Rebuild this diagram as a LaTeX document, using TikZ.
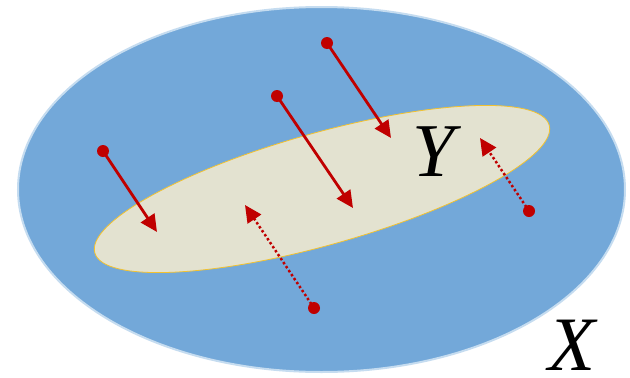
\documentclass[tikz,border=0pt]{standalone}
\usepackage{fontspec}
\setmainfont{Liberation Serif}
\usetikzlibrary{arrows.meta}
\definecolor{bigblue}{HTML}{73A8D9}
\definecolor{rimblue}{HTML}{C5DCF0}
\definecolor{beige}{HTML}{E3E2D0}
\definecolor{rimyel}{HTML}{F2C230}
\definecolor{arrred}{HTML}{C00000}
\tikzset{
  dotnode/.style={circle,fill=arrred,inner sep=0pt,minimum size=12pt},
  solidarr/.style={draw=arrred,line width=2.8pt,-{Triangle[length=17pt,width=16pt]}},
  dotarr/.style={draw=arrred,line width=2.5pt,dash pattern=on 2.4pt off 2.4pt,-{Triangle[length=17pt,width=16pt]}},
  lbl/.style={font=\fontsize{76}{76}\selectfont\itshape,inner sep=0pt}
}
\begin{document}
\begin{tikzpicture}[x=1pt,y=-1pt]
\useasboundingbox (0,0) rectangle (630,378);
\fill[white] (0,0) rectangle (630,378);
\draw[fill=bigblue,draw=rimblue,line width=2pt] (321.5,189.5) ellipse [x radius=303.5,y radius=182.5];
\draw[fill=beige,draw=rimyel,line width=0.8pt,rotate around={15.7:(322,189)}] (322,189) ellipse [x radius=236,y radius=56];
\node[lbl] (Y) at (434,152) {Y};
\node[lbl,font=\fontsize{77}{77}\selectfont\itshape] (X) at (572,345) {X};
% solid arrows
\node[dotnode] (s1) at (103,151) {};
\coordinate (t1) at (157,232);
\node[dotnode] (s2) at (277,96) {};
\coordinate (t2) at (353,208);
\node[dotnode] (s3) at (327,43) {};
\coordinate (t3) at (391,138);
\draw[solidarr] (s1.center) -- (t1);
\draw[solidarr] (s2.center) -- (t2);
\draw[solidarr] (s3.center) -- (t3);
% dotted arrows
\node[dotnode] (d1) at (314,308) {};
\coordinate (u1) at (245,205);
\node[dotnode] (d2) at (529,211) {};
\coordinate (u2) at (480,138);
\draw[dotarr] (d1.center) -- (u1);
\draw[dotarr] (d2.center) -- (u2);
\end{tikzpicture}
\end{document}
